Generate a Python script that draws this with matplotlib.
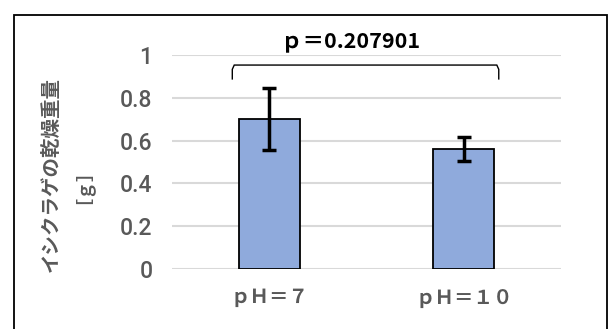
import matplotlib
matplotlib.use("Agg")
import matplotlib.pyplot as plt
from matplotlib.patches import Rectangle
from matplotlib.path import Path
from matplotlib.patches import PathPatch

categories = ["ｐＨ＝７", "ｐＨ＝１０"]
means = [0.70, 0.56]
errors = [0.145, 0.055]
yticks = [0, 0.2, 0.4, 0.6, 0.8, 1.0]
ytick_labels = ["0", "0.2", "0.4", "0.6", "0.8", "1"]
p_label = "ｐ＝0.207901"
ylabel_line1 = "イシクラゲの乾燥重量"
ylabel_line2 = "［ｇ］"

plt.rcParams['font.family'] = ['Noto Sans CJK JP', 'DejaVu Sans']

fig = plt.figure(figsize=(6.12, 3.29), dpi=100)
W, H = 612, 329

# outer border
fig.patches.append(Rectangle((14 / W, -0.05), (607 - 14) / W, 1 - 15 / H + 0.05,
                             transform=fig.transFigure, fill=False,
                             edgecolor='black', linewidth=1.3))

ax = fig.add_axes([172 / W, 1 - 269 / H, (561 - 172) / W, (269 - 55) / H])
x = list(range(len(categories)))
ax.bar(x, means, width=0.315, color='#8faadc', edgecolor='black', linewidth=1.3, zorder=3)
ax.errorbar(x, means, yerr=errors, fmt='none', ecolor='black', elinewidth=2.5,
            capsize=5, capthick=2.5, zorder=4)

ax.set_xlim(-0.5, 1.5)
ax.set_ylim(0, 1)
ax.set_yticks(yticks)
ax.set_yticklabels(ytick_labels, fontsize=16.5, color='#595959', fontweight='medium',
                   family=['Roboto', 'DejaVu Sans'])
ax.set_xticks(x)
ax.set_xticklabels(categories, fontsize=14, color='#595959', fontweight='bold')
ax.tick_params(axis='both', length=0)
ax.tick_params(axis='y', pad=14)
ax.tick_params(axis='x', pad=14)
ax.grid(axis='y', color='#d9d9d9', linewidth=1.5, zorder=0)
for s in ax.spines.values():
    s.set_visible(False)

# y label as two rotated lines
fig.text(51 / W, 1 - 175 / H, ylabel_line1, rotation=90, ha='center', va='center',
         fontsize=14, color='#595959', fontweight='bold')
fig.text(73 / W, 1 - 177 / H, ylabel_line2, rotation=90, ha='center', va='center',
         fontsize=13, color='#595959', fontweight='bold')

# bracket
xl, xr, ytop, ybot = -0.19, 1.18, 0.953, 0.885
verts = [(xl, ybot), (xl, ytop - 0.02), (xl + 0.01, ytop), (xr - 0.01, ytop),
         (xr, ytop - 0.02), (xr, ybot)]
codes = [Path.MOVETO, Path.LINETO, Path.LINETO, Path.LINETO, Path.LINETO, Path.LINETO]
ax.add_patch(PathPatch(Path(verts, codes), fill=False, edgecolor='black',
                       linewidth=1.0, clip_on=False, zorder=5))
ax.text(0.42, 1.065, p_label, ha='center', va='center', fontsize=15.5,
        fontweight='bold', color='black', clip_on=False)

fig.savefig("out.png", dpi=100)
